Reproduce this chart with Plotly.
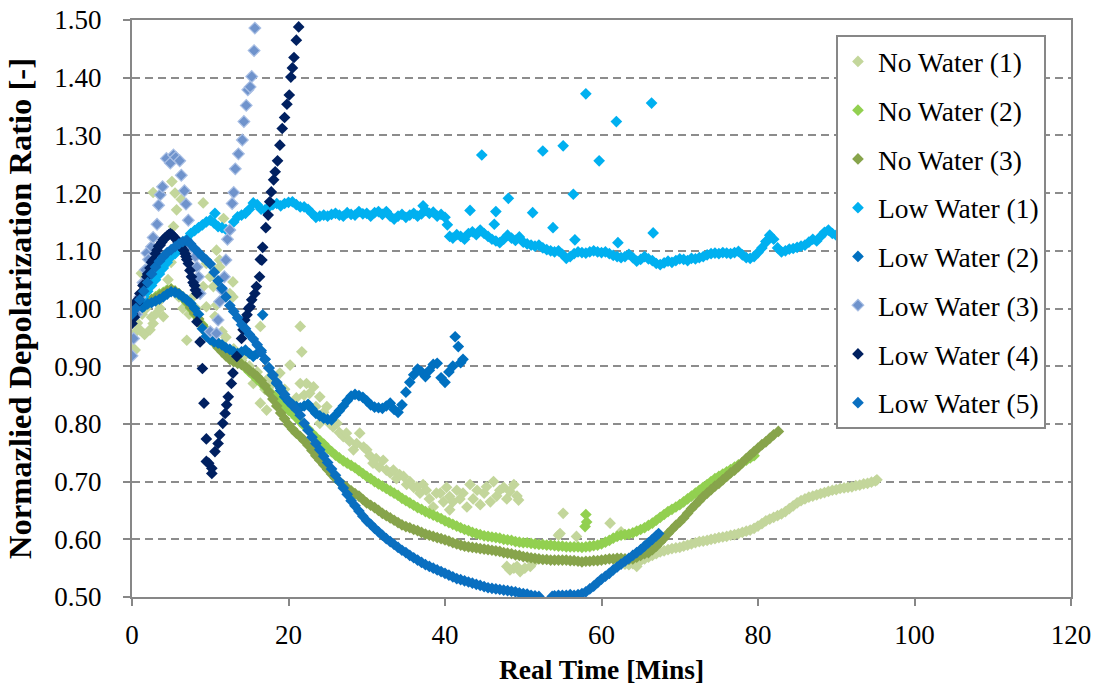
import plotly.graph_objects as go

# ---- measured series: (real time [min], normalized depolarization ratio) ----

no_water_1 = [
    (0.0, 0.950), (0.2, 0.930), (0.4, 0.928), (0.5, 0.960), (0.7, 0.975), (1.0, 0.963), (1.2, 1.061),
    (1.3, 0.990), (1.6, 0.955), (1.8, 1.000), (2.1, 1.072), (2.3, 0.963), (2.5, 0.985), (2.7, 0.974),
    (2.7, 1.201), (3.0, 0.990), (3.3, 1.010), (3.6, 1.000), (4.0, 0.986), (4.3, 1.030), (4.6, 1.050),
    (5.0, 1.080), (5.1, 1.220), (5.3, 1.142), (5.5, 1.200), (5.7, 1.171), (6.0, 1.020), (6.3, 1.189),
    (6.5, 1.000), (7.0, 0.945), (7.3, 0.990), (7.8, 1.020), (8.2, 1.000), (8.6, 0.975), (9.1, 1.183),
    (9.1, 1.038), (9.5, 1.078), (9.5, 1.003), (10.0, 1.055), (10.4, 1.038), (10.6, 0.986), (10.8, 1.101),
    (10.8, 1.006), (11.2, 1.072), (11.2, 1.084), (11.5, 0.960), (11.7, 1.156), (12.0, 0.950), (12.5, 1.026),
    (12.9, 1.046), (12.9, 1.020), (13.0, 0.930),
    (13.5, 0.920), (14.0, 0.910), (14.5, 0.920), (15.0, 0.900), (15.5, 0.870), (16.0, 0.890), (16.4, 0.836),
    (16.4, 0.969), (17.0, 0.860), (17.2, 0.824), (17.5, 0.880), (18.0, 0.870), (18.5, 0.850), (18.9, 0.888),
    (19.5, 0.860), (20.0, 0.840), (20.2, 0.902), (20.5, 0.830), (21.0, 0.845), (21.5, 0.870), (21.5, 0.969),
    (21.7, 0.925), (22.0, 0.850), (22.3, 0.870), (22.7, 0.853), (23.2, 0.864), (23.5, 0.830), (24.0, 0.847),
    (24.0, 0.801), (24.5, 0.820), (24.9, 0.830), (25.3, 0.800), (25.7, 0.795), (26.2, 0.801), (26.5, 0.785),
    (27.0, 0.778), (27.4, 0.784), (27.8, 0.770), (28.3, 0.755), (28.7, 0.766), (29.1, 0.784), (29.6, 0.760),
    (30.0, 0.755), (30.4, 0.745), (30.8, 0.732), (31.2, 0.740), (31.6, 0.725), (32.1, 0.737), (32.5, 0.720),
    (33.0, 0.715), (33.4, 0.720), (33.8, 0.705), (34.2, 0.712), (34.7, 0.709), (35.1, 0.695), (35.5, 0.700),
    (36.0, 0.690), (36.4, 0.691), (36.8, 0.680), (37.2, 0.695), (37.6, 0.685), (38.0, 0.670), (38.5, 0.656),
    (38.9, 0.680), (39.4, 0.680), (39.8, 0.665), (40.2, 0.690), (40.6, 0.674), (40.6, 0.651), (41.0, 0.665),
    (41.5, 0.685), (41.9, 0.670), (42.3, 0.680), (42.8, 0.656), (43.2, 0.695), (43.6, 0.670), (44.1, 0.685),
    (44.5, 0.660), (45.0, 0.680), (45.3, 0.691), (45.8, 0.665), (46.2, 0.700), (46.6, 0.675), (47.0, 0.685),
    (47.5, 0.690), (47.9, 0.670), (48.3, 0.683), (48.8, 0.695), (49.2, 0.675), (49.4, 0.668),
    (47.9, 0.553), (48.3, 0.547), (48.8, 0.550), (49.2, 0.553), (49.6, 0.544), (50.2, 0.550), (50.9, 0.553),
    (51.3, 0.560), (54.5, 0.607), (54.7, 0.610), (55.1, 0.645), (56.8, 0.605), (58.5, 0.587), (61.1, 0.628),
    (62.5, 0.613), (64.5, 0.553),
    (62.0, 0.562), (62.5, 0.558), (63.0, 0.557), (63.5, 0.556), (64.0, 0.558), (64.5, 0.560), (65.0, 0.563),
    (65.5, 0.566), (66.0, 0.569), (66.5, 0.572), (67.0, 0.575), (67.5, 0.578), (68.0, 0.580), (68.5, 0.582),
    (69.0, 0.584), (69.5, 0.585), (70.0, 0.586), (70.5, 0.588), (71.0, 0.590), (71.5, 0.592), (72.0, 0.594),
    (72.5, 0.596), (73.0, 0.597), (73.5, 0.598), (74.0, 0.600), (74.5, 0.601), (75.0, 0.603), (75.5, 0.604),
    (76.0, 0.605), (76.5, 0.607), (77.0, 0.608), (77.5, 0.610), (78.0, 0.612), (78.5, 0.614), (79.0, 0.616),
    (79.5, 0.619), (80.0, 0.623), (80.5, 0.627), (81.0, 0.632), (81.5, 0.635), (82.0, 0.638), (82.5, 0.641),
    (83.0, 0.644), (83.5, 0.648), (84.0, 0.653), (84.5, 0.658), (85.0, 0.663), (85.5, 0.667), (86.0, 0.670),
    (86.5, 0.673), (87.0, 0.675), (87.5, 0.677), (88.0, 0.679), (88.5, 0.681), (89.0, 0.683), (89.5, 0.685),
    (90.0, 0.686), (90.5, 0.688), (91.0, 0.689), (91.5, 0.690), (92.0, 0.691), (92.5, 0.693), (93.0, 0.694),
    (93.5, 0.696), (94.0, 0.697), (94.5, 0.699), (95.0, 0.701), (95.2, 0.703),
]

no_water_2 = [
    (0.0, 1.005), (0.5, 1.000), (1.0, 1.003), (1.5, 1.008), (2.0, 1.012), (2.5, 1.016), (3.0, 1.020),
    (3.5, 1.025), (4.0, 1.028), (4.5, 1.032), (5.0, 1.034), (5.5, 1.030), (6.0, 1.025), (6.5, 1.018),
    (7.0, 1.010), (7.5, 1.000), (8.0, 0.990), (8.5, 0.982), (9.0, 0.972), (9.5, 0.963), (10.0, 0.955),
    (10.5, 0.947), (11.0, 0.940), (11.5, 0.935), (12.0, 0.930), (12.5, 0.924), (13.0, 0.917), (13.5, 0.910),
    (14.0, 0.903), (14.5, 0.897), (15.0, 0.890), (15.5, 0.884), (16.0, 0.877), (16.5, 0.871), (17.0, 0.864),
    (17.5, 0.857), (18.0, 0.850), (18.5, 0.844), (19.0, 0.837), (19.5, 0.831), (20.0, 0.824), (20.5, 0.818),
    (21.0, 0.811), (21.5, 0.804), (22.0, 0.797), (22.5, 0.791), (23.0, 0.784), (23.5, 0.777), (24.0, 0.771),
    (24.5, 0.765), (25.0, 0.758), (25.5, 0.752), (26.0, 0.746), (26.5, 0.741), (27.0, 0.736), (27.5, 0.732),
    (28.0, 0.728), (28.5, 0.724), (29.0, 0.719), (29.5, 0.714), (30.0, 0.709), (30.5, 0.705), (31.0, 0.700),
    (31.5, 0.696), (32.0, 0.692), (32.5, 0.688), (33.0, 0.684), (33.5, 0.680), (34.0, 0.676), (34.5, 0.671),
    (35.0, 0.667), (35.5, 0.663), (36.0, 0.659), (36.5, 0.655), (37.0, 0.652), (37.5, 0.648), (38.0, 0.645),
    (38.5, 0.642), (39.0, 0.639), (39.5, 0.636), (40.0, 0.632), (40.5, 0.629), (41.0, 0.626), (41.5, 0.623),
    (42.0, 0.620), (42.5, 0.617), (43.0, 0.615), (43.5, 0.612), (44.0, 0.610), (44.5, 0.608), (45.0, 0.606),
    (45.5, 0.605), (46.0, 0.604), (46.5, 0.603), (47.0, 0.602), (47.5, 0.600), (48.0, 0.599), (48.5, 0.598),
    (49.0, 0.596), (49.5, 0.595), (50.0, 0.594), (50.5, 0.594), (51.0, 0.593), (51.5, 0.592), (52.0, 0.591),
    (52.5, 0.591), (53.0, 0.590), (53.5, 0.590), (54.0, 0.589), (54.5, 0.588), (55.0, 0.588), (55.5, 0.587),
    (56.0, 0.587), (56.5, 0.587), (57.0, 0.587), (57.5, 0.586), (58.0, 0.587), (58.5, 0.588), (59.0, 0.589),
    (59.5, 0.590), (60.0, 0.592), (60.5, 0.595), (61.0, 0.598), (61.5, 0.602), (62.0, 0.605), (62.5, 0.607),
    (63.0, 0.608), (63.5, 0.609), (64.0, 0.611), (64.5, 0.614), (65.0, 0.617), (65.5, 0.620), (66.0, 0.624),
    (66.5, 0.628), (67.0, 0.633), (67.5, 0.638), (68.0, 0.643), (68.5, 0.648), (69.0, 0.652), (69.5, 0.656),
    (70.0, 0.660), (70.5, 0.665), (71.0, 0.670), (71.5, 0.675), (72.0, 0.680), (72.5, 0.685), (73.0, 0.690),
    (73.5, 0.695), (74.0, 0.700), (74.5, 0.705), (75.0, 0.709), (75.5, 0.713), (76.0, 0.717), (76.5, 0.721),
    (77.0, 0.725), (77.5, 0.729), (78.0, 0.733), (78.5, 0.737), (79.0, 0.741), (79.5, 0.745),
    (57.9, 0.622), (58.0, 0.643), (58.1, 0.630),
]

no_water_3 = [
    (0.0, 1.000), (0.5, 0.998), (1.0, 1.003), (1.5, 1.008), (2.0, 1.012), (2.5, 1.015), (3.0, 1.018),
    (3.5, 1.022), (4.0, 1.026), (4.5, 1.030), (5.0, 1.033), (5.5, 1.030), (6.0, 1.026), (6.5, 1.020),
    (7.0, 1.012), (7.5, 1.002), (8.0, 0.992), (8.5, 0.982), (9.0, 0.970), (9.5, 0.958), (10.0, 0.948),
    (10.5, 0.940), (11.0, 0.932), (11.5, 0.925), (12.0, 0.918), (12.5, 0.912), (13.0, 0.908), (13.5, 0.905),
    (14.0, 0.903), (14.5, 0.899), (15.0, 0.893), (15.5, 0.888), (16.0, 0.882), (16.5, 0.875), (17.0, 0.866),
    (17.5, 0.855), (18.0, 0.843), (18.5, 0.831), (19.0, 0.819), (19.5, 0.809), (20.0, 0.799), (20.5, 0.791),
    (21.0, 0.784), (21.5, 0.778), (22.0, 0.771), (22.5, 0.763), (23.0, 0.754), (23.5, 0.745), (24.0, 0.737),
    (24.5, 0.729), (25.0, 0.721), (25.5, 0.713), (26.0, 0.706), (26.5, 0.700), (27.0, 0.694), (27.5, 0.689),
    (28.0, 0.684), (28.5, 0.679), (29.0, 0.675), (29.5, 0.669), (30.0, 0.663), (30.5, 0.659), (31.0, 0.655),
    (31.5, 0.650), (32.0, 0.645), (32.5, 0.641), (33.0, 0.637), (33.5, 0.633), (34.0, 0.629), (34.5, 0.625),
    (35.0, 0.622), (35.5, 0.620), (36.0, 0.617), (36.5, 0.615), (37.0, 0.612), (37.5, 0.609), (38.0, 0.607),
    (38.5, 0.605), (39.0, 0.603), (39.5, 0.601), (40.0, 0.599), (40.5, 0.597), (41.0, 0.594), (41.5, 0.592),
    (42.0, 0.590), (42.5, 0.588), (43.0, 0.587), (43.5, 0.586), (44.0, 0.585), (44.5, 0.584), (45.0, 0.583),
    (45.5, 0.582), (46.0, 0.581), (46.5, 0.580), (47.0, 0.579), (47.5, 0.577), (48.0, 0.576), (48.5, 0.575),
    (49.0, 0.573), (49.5, 0.572), (50.0, 0.570), (50.5, 0.569), (51.0, 0.568), (51.5, 0.567), (52.0, 0.566),
    (52.5, 0.565), (53.0, 0.565), (53.5, 0.564), (54.0, 0.564), (54.5, 0.564), (55.0, 0.564), (55.5, 0.564),
    (56.0, 0.563), (56.5, 0.563), (57.0, 0.562), (57.5, 0.561), (58.0, 0.562), (58.5, 0.562), (59.0, 0.563),
    (59.5, 0.563), (60.0, 0.564), (60.5, 0.565), (61.0, 0.566), (61.5, 0.566), (62.0, 0.567), (62.5, 0.567),
    (63.0, 0.566), (63.5, 0.565), (64.0, 0.566), (64.5, 0.569), (65.0, 0.572), (65.5, 0.575), (66.0, 0.577),
    (66.5, 0.582), (67.0, 0.588), (67.5, 0.595), (68.0, 0.602), (68.5, 0.610), (69.0, 0.617), (69.5, 0.624),
    (70.0, 0.630), (70.5, 0.637), (71.0, 0.645), (71.5, 0.653), (72.0, 0.660), (72.5, 0.667), (73.0, 0.674),
    (73.5, 0.680), (74.0, 0.686), (74.5, 0.692), (75.0, 0.697), (75.5, 0.703), (76.0, 0.709), (76.5, 0.715),
    (77.0, 0.720), (77.5, 0.726), (78.0, 0.733), (78.5, 0.740), (79.0, 0.746), (79.5, 0.752), (80.0, 0.758),
    (80.5, 0.764), (81.0, 0.769), (81.5, 0.775), (82.0, 0.781), (82.6, 0.787),
]

low_water_1 = [
    (0.0, 1.000), (0.5, 1.005), (1.0, 1.012), (1.5, 1.020), (2.0, 1.030), (2.5, 1.040), (3.0, 1.050),
    (3.5, 1.060), (4.0, 1.070), (4.5, 1.080), (5.0, 1.090), (5.5, 1.095), (6.0, 1.105), (6.5, 1.110),
    (7.0, 1.120), (7.5, 1.130), (8.0, 1.135), (8.5, 1.140), (9.0, 1.145), (9.5, 1.150), (10.0, 1.153),
    (10.5, 1.148), (11.0, 1.142), (11.5, 1.140), (12.0, 1.137), (12.5, 1.136), (13.0, 1.150), (13.5, 1.159),
    (14.0, 1.162), (14.5, 1.165), (15.0, 1.172), (15.5, 1.183), (16.0, 1.180), (16.5, 1.172), (17.0, 1.171),
    (17.5, 1.176), (18.0, 1.180), (18.5, 1.182), (19.0, 1.178), (19.5, 1.182), (20.0, 1.184), (20.5, 1.185),
    (21.0, 1.180), (21.5, 1.176), (22.0, 1.176), (22.5, 1.172), (23.0, 1.165), (23.5, 1.158), (24.0, 1.160),
    (24.5, 1.162), (25.0, 1.160), (25.5, 1.163), (26.0, 1.165), (26.5, 1.162), (27.0, 1.160), (27.5, 1.166),
    (28.0, 1.163), (28.5, 1.162), (29.0, 1.168), (29.5, 1.164), (30.0, 1.165), (30.5, 1.160), (31.0, 1.166),
    (31.5, 1.168), (32.0, 1.163), (32.5, 1.168), (33.0, 1.160), (33.5, 1.155), (34.0, 1.160), (34.5, 1.163),
    (35.0, 1.158), (35.5, 1.162), (36.0, 1.165), (36.5, 1.160), (37.0, 1.164), (37.5, 1.170), (38.0, 1.165),
    (38.5, 1.167), (39.0, 1.160), (39.5, 1.163), (40.0, 1.158), (40.3, 1.145), (40.6, 1.125), (41.0, 1.122),
    (41.5, 1.128), (42.0, 1.125), (42.5, 1.120), (43.0, 1.130), (43.5, 1.133), (44.0, 1.128), (44.5, 1.136),
    (45.0, 1.130), (45.5, 1.125), (46.0, 1.120), (46.5, 1.117), (47.0, 1.114), (47.5, 1.120), (48.0, 1.127),
    (48.5, 1.122), (49.0, 1.118), (49.5, 1.124), (50.0, 1.115), (50.5, 1.112), (51.0, 1.110), (51.5, 1.108),
    (52.0, 1.110), (52.5, 1.105), (53.0, 1.102), (53.5, 1.100), (54.0, 1.098), (54.5, 1.100), (55.0, 1.094),
    (55.5, 1.087), (56.0, 1.090), (56.5, 1.095), (57.0, 1.098), (57.5, 1.097), (58.0, 1.096), (58.5, 1.098),
    (59.0, 1.100), (59.5, 1.098), (60.0, 1.097), (60.5, 1.098), (61.0, 1.095), (61.5, 1.092), (62.0, 1.090),
    (62.5, 1.088), (63.0, 1.090), (63.5, 1.094), (64.0, 1.088), (64.5, 1.082), (65.0, 1.085), (65.5, 1.090),
    (66.0, 1.086), (66.5, 1.083), (67.0, 1.078), (67.5, 1.076), (68.0, 1.079), (68.5, 1.082), (69.0, 1.080),
    (69.5, 1.083), (70.0, 1.086), (70.5, 1.085), (71.0, 1.083), (71.5, 1.087), (72.0, 1.086), (72.5, 1.088),
    (73.0, 1.090), (73.5, 1.093), (74.0, 1.095), (74.5, 1.096), (75.0, 1.095), (75.5, 1.097), (76.0, 1.096),
    (76.5, 1.095), (77.0, 1.097), (77.5, 1.099), (78.0, 1.093), (78.5, 1.088), (79.0, 1.087), (79.5, 1.090),
    (80.0, 1.097), (80.5, 1.105), (81.0, 1.116), (81.5, 1.127), (82.0, 1.120), (82.5, 1.105), (83.0, 1.098),
    (83.5, 1.100), (84.0, 1.103), (84.5, 1.104), (85.0, 1.106), (85.5, 1.108), (86.0, 1.110), (86.5, 1.115),
    (87.0, 1.120), (87.5, 1.117), (88.0, 1.125), (88.5, 1.132), (89.0, 1.136), (89.5, 1.130), (90.0, 1.127),
    (90.5, 1.130), (91.0, 1.133), (91.5, 1.135),
    (10.6, 1.165), (37.2, 1.178), (43.2, 1.170), (44.7, 1.266), (46.3, 1.146), (46.5, 1.168), (48.1, 1.191),
    (51.2, 1.166), (52.5, 1.273), (53.8, 1.140), (55.1, 1.282), (56.4, 1.198), (56.6, 1.119), (58.0, 1.372),
    (59.7, 1.256), (61.9, 1.324), (62.1, 1.114), (66.4, 1.356), (66.6, 1.131), (81.1, 1.116),
]

low_water_2 = [
    (0.0, 1.000), (0.5, 0.995), (1.0, 0.998), (1.5, 1.003), (2.0, 1.008), (2.5, 1.010), (3.0, 1.013),
    (3.5, 1.016), (4.0, 1.020), (4.5, 1.025), (5.0, 1.029), (5.5, 1.028), (6.0, 1.025), (6.5, 1.020),
    (7.0, 1.015), (7.5, 1.009), (8.0, 1.000), (8.5, 0.990), (9.0, 0.965), (9.5, 0.952), (10.0, 0.946),
    (10.5, 0.942), (11.0, 0.940), (11.5, 0.937), (12.0, 0.932), (12.5, 0.929), (13.0, 0.925), (13.5, 0.922),
    (14.0, 0.925), (14.5, 0.928), (15.0, 0.922), (15.5, 0.917), (16.0, 0.922), (16.5, 0.927), (17.0, 0.912),
    (17.5, 0.897), (18.0, 0.884), (18.5, 0.870), (19.0, 0.858), (19.5, 0.847), (20.0, 0.839), (20.5, 0.834),
    (21.0, 0.830), (21.5, 0.828), (22.0, 0.831), (22.5, 0.834), (23.0, 0.826), (23.5, 0.818), (24.0, 0.814),
    (24.5, 0.810), (25.0, 0.808), (25.5, 0.807), (26.0, 0.815), (26.5, 0.823), (27.0, 0.831), (27.5, 0.840),
    (28.0, 0.848), (28.5, 0.851), (29.0, 0.849), (29.5, 0.846), (30.0, 0.840), (30.5, 0.833), (31.0, 0.829),
    (31.5, 0.828), (32.0, 0.827), (32.5, 0.831), (33.0, 0.836), (33.5, 0.825), (34.0, 0.820), (34.5, 0.833),
    (35.0, 0.855), (35.5, 0.872), (36.0, 0.885), (36.5, 0.895), (37.0, 0.890), (37.5, 0.882), (38.0, 0.893),
    (38.5, 0.903), (39.0, 0.905), (39.5, 0.880), (40.0, 0.872), (40.5, 0.890), (41.0, 0.900), (41.3, 0.951),
    (41.7, 0.934), (42.0, 0.906), (42.3, 0.912), (16.7, 0.989),
]

low_water_3 = [
    (0.0, 0.918), (0.2, 0.948), (0.6, 0.990), (1.0, 1.020), (1.4, 1.045), (1.7, 1.067), (1.9, 1.096),
    (2.1, 1.085), (2.5, 1.107), (2.7, 1.123), (3.2, 1.146), (3.4, 1.179), (3.6, 1.197), (3.9, 1.211),
    (4.4, 1.260), (4.9, 1.252), (5.3, 1.266), (5.6, 1.262), (6.1, 1.256), (6.3, 1.231), (6.7, 1.204),
    (6.9, 1.181), (7.2, 1.153), (7.6, 1.107), (8.1, 1.090), (8.3, 1.072), (8.5, 1.055), (8.7, 1.026),
    (10.0, 0.960), (10.8, 0.957), (11.0, 0.980), (11.2, 1.012), (11.5, 1.032), (11.8, 1.055), (12.0, 1.084),
    (12.2, 1.120), (12.5, 1.136), (12.8, 1.182), (13.0, 1.201), (13.2, 1.242), (13.6, 1.268), (14.1, 1.292),
    (14.3, 1.324), (14.6, 1.352), (14.8, 1.379), (15.1, 1.384), (15.3, 1.402), (15.6, 1.447), (15.7, 1.486),
]

low_water_4 = [
    (0.0, 0.974), (0.1, 0.990), (0.1, 1.003), (0.3, 0.985), (0.5, 1.012), (0.7, 1.010), (1.0, 1.026),
    (1.4, 1.040), (1.9, 1.055), (2.0, 1.060), (2.3, 1.070), (2.5, 1.080), (2.7, 1.084), (3.0, 1.095),
    (3.2, 1.101), (3.4, 1.108), (3.6, 1.110), (3.8, 1.115), (4.0, 1.119), (4.2, 1.122), (4.5, 1.126),
    (4.7, 1.128), (4.9, 1.130), (5.1, 1.128), (5.3, 1.125), (5.5, 1.122), (5.7, 1.119), (5.9, 1.115),
    (6.1, 1.110), (6.3, 1.106), (6.6, 1.101), (6.8, 1.095), (6.9, 1.090), (7.0, 1.085), (7.2, 1.078),
    (7.4, 1.066), (7.6, 1.055), (7.8, 1.045), (8.0, 1.040), (8.1, 1.032), (8.3, 1.026), (8.3, 0.977),
    (8.7, 0.942), (9.0, 0.896), (9.2, 0.836), (9.5, 0.774), (9.5, 0.735), (9.8, 0.732), (10.2, 0.723),
    (10.2, 0.714), (10.6, 0.752), (11.0, 0.766), (11.2, 0.781), (11.6, 0.801), (11.9, 0.818), (12.1, 0.833),
    (12.3, 0.847), (12.7, 0.870), (12.9, 0.888), (13.4, 0.917), (14.0, 0.948), (14.2, 0.963), (14.4, 0.980),
    (14.7, 0.989), (14.9, 1.000), (15.1, 1.003), (15.3, 1.015), (15.7, 1.026), (15.9, 1.038), (16.3, 1.055),
    (16.4, 1.085), (16.6, 1.084), (16.7, 1.106), (17.1, 1.140), (17.4, 1.162), (17.6, 1.185), (17.8, 1.202),
    (18.1, 1.223), (18.3, 1.237), (18.6, 1.256), (18.9, 1.283), (19.2, 1.312), (19.5, 1.331), (19.8, 1.354),
    (20.1, 1.370), (20.3, 1.401), (20.5, 1.417), (20.7, 1.435), (21.0, 1.465), (21.3, 1.488),
]

low_water_5 = [
    (0.0, 0.990), (0.5, 1.000), (1.0, 1.015), (1.5, 1.030), (2.0, 1.045), (2.5, 1.060), (3.0, 1.072),
    (3.5, 1.082), (4.0, 1.090), (4.5, 1.097), (5.0, 1.102), (5.5, 1.107), (6.0, 1.112), (6.5, 1.116),
    (7.0, 1.118), (7.5, 1.112), (8.0, 1.104), (8.5, 1.097), (9.0, 1.090), (9.5, 1.084), (10.0, 1.077),
    (10.5, 1.063), (11.0, 1.048), (11.5, 1.035), (12.0, 1.020), (12.5, 1.005), (13.0, 0.995), (13.5, 0.984),
    (14.0, 0.972), (14.5, 0.965), (15.0, 0.955), (15.5, 0.947), (16.0, 0.937), (16.5, 0.924), (17.0, 0.912),
    (17.5, 0.897), (18.0, 0.885), (18.5, 0.872), (19.0, 0.862), (19.5, 0.851), (20.0, 0.840), (20.5, 0.832),
    (21.0, 0.825), (21.5, 0.815), (22.0, 0.801), (22.5, 0.789), (23.0, 0.777), (23.5, 0.766), (24.0, 0.755),
    (24.5, 0.744), (25.0, 0.733), (25.5, 0.722), (26.0, 0.711), (26.5, 0.700), (27.0, 0.689), (27.5, 0.678),
    (28.0, 0.667), (28.5, 0.658), (29.0, 0.649), (29.5, 0.640), (30.0, 0.632), (30.5, 0.626), (31.0, 0.619),
    (31.5, 0.613), (32.0, 0.607), (32.5, 0.601), (33.0, 0.596), (33.5, 0.591), (34.0, 0.586), (34.5, 0.581),
    (35.0, 0.577), (35.5, 0.572), (36.0, 0.568), (36.5, 0.564), (37.0, 0.560), (37.5, 0.556), (38.0, 0.553),
    (38.5, 0.550), (39.0, 0.547), (39.5, 0.544), (40.0, 0.541), (40.5, 0.538), (41.0, 0.535), (41.5, 0.532),
    (42.0, 0.530), (42.5, 0.528), (43.0, 0.526), (43.5, 0.524), (44.0, 0.522), (44.5, 0.520), (45.0, 0.518),
    (45.5, 0.516), (46.0, 0.515), (46.5, 0.514), (47.0, 0.513), (47.5, 0.512), (48.0, 0.511), (48.5, 0.510),
    (49.0, 0.509), (49.5, 0.507), (50.0, 0.506), (50.5, 0.505), (51.0, 0.503), (51.5, 0.502), (52.0, 0.501),
    (53.7, 0.501), (54.0, 0.502), (54.5, 0.503), (55.0, 0.503), (55.5, 0.503), (56.0, 0.504), (56.5, 0.503),
    (57.0, 0.504), (57.5, 0.506), (58.0, 0.509), (58.5, 0.514), (59.0, 0.519), (59.5, 0.525), (60.0, 0.531),
    (60.5, 0.536), (61.0, 0.541), (61.5, 0.547), (62.0, 0.552), (62.5, 0.557), (63.0, 0.562), (63.5, 0.567),
    (64.0, 0.572), (64.5, 0.577), (65.0, 0.582), (65.5, 0.588), (66.0, 0.594), (66.5, 0.600), (67.0, 0.606),
    (67.3, 0.610),
]

series = [
    ("No Water (1)", no_water_1, "#c3d69b", None),
    ("No Water (2)", no_water_2, "#92d050", None),
    ("No Water (3)", no_water_3, "#87a44b", None),
    ("Low Water (1)", low_water_1, "#00b0f0", None),
    ("Low Water (2)", low_water_2, "#0070c0", None),
    ("Low Water (3)", low_water_3, "#6f93cc", "#a9bfe4"),
    ("Low Water (4)", low_water_4, "#002060", None),
    ("Low Water (5)", low_water_5, "#0a6fc0", None),
]

x_ticks = [0, 20, 40, 60, 80, 100, 120]
y_ticks = [0.50, 0.60, 0.70, 0.80, 0.90, 1.00, 1.10, 1.20, 1.30, 1.40, 1.50]

FONT = "Liberation Serif"
AXIS_GREY = "#878787"

fig = go.Figure()
for i, (name, pts, color, edge) in enumerate(series):
    fig.add_trace(go.Scatter(
        x=[p[0] for p in pts],
        y=[p[1] for p in pts],
        mode="markers",
        name=name,
        legendgroup=f"g{i}",
        marker=dict(
            symbol="diamond",
            size=9,
            color=color,
            line=dict(width=1.2 if edge else 0, color=edge or color),
        ),
    ))

fig.update_layout(
    width=1096,
    height=685,
    margin=dict(l=132, r=25, t=20, b=88),
    paper_bgcolor="white",
    plot_bgcolor="white",
    font=dict(family=FONT, size=27, color="black"),
    showlegend=True,
    legend=dict(
        x=0.7497, y=0.974, xanchor="left", yanchor="top",
        bgcolor="white", bordercolor=AXIS_GREY, borderwidth=2,
        font=dict(family=FONT, size=27.5, color="black"),
        tracegroupgap=10,
        entrywidth=186,
    ),
    xaxis=dict(
        range=[0, 120],
        tickvals=x_ticks,
        automargin=False,
        ticks="outside", ticklen=7, tickwidth=2, tickcolor=AXIS_GREY,
        ticklabelstandoff=6,
        showline=True, linecolor=AXIS_GREY, linewidth=2, mirror=True,
        showgrid=False, zeroline=False,
        tickfont=dict(family=FONT, size=27),
        title=dict(text="<b>Real Time [Mins]</b>", font=dict(family=FONT, size=27.5), standoff=14),
    ),
    yaxis=dict(
        range=[0.5, 1.5],
        tickvals=y_ticks,
        tickformat=".2f",
        automargin=False,
        ticks="outside", ticklen=7, tickwidth=2, tickcolor=AXIS_GREY,
        ticklabelstandoff=16,
        showline=True, linecolor=AXIS_GREY, linewidth=2, mirror=True,
        showgrid=True, gridcolor="#8c8c8c", gridwidth=2, griddash="8px,5px",
        zeroline=False,
        tickfont=dict(family=FONT, size=27),
        title=dict(text="<b>Normazlied Depolarization Ratio [-]</b>", font=dict(family=FONT, size=32.5), standoff=13),
    ),
)

fig.write_html("out.html")
